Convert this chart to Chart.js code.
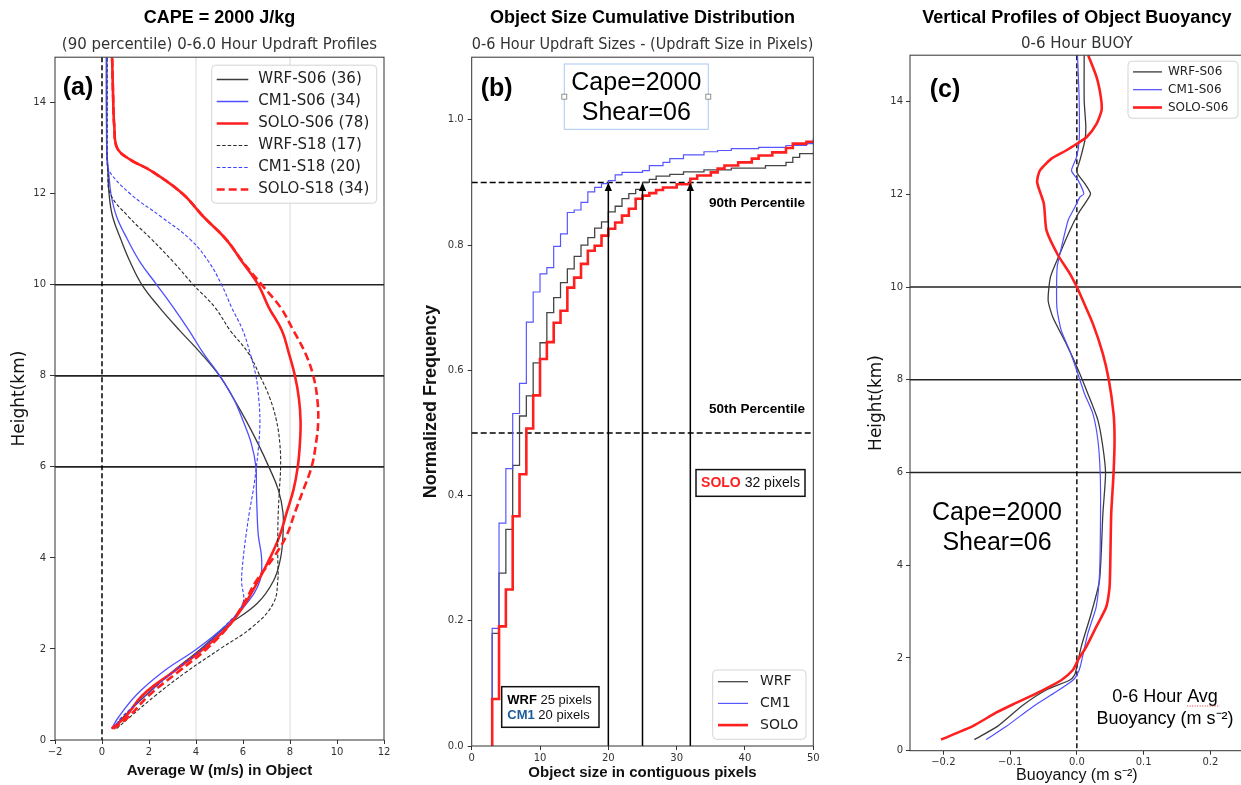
<!DOCTYPE html>
<html>
<head>
<meta charset="utf-8">
<title>Updraft objects, CAPE 2000</title>
<script src="https://cdn.jsdelivr.net/npm/chart.js@4.4.1/dist/chart.umd.min.js"></script>
<style>
  html, body { margin: 0; padding: 0; background: #fff; overflow: hidden; }
  body { width: 1241px; height: 785px; position: relative; }
  canvas { position: absolute; top: 0; }
  #panelA { left: 0; }
  #panelB { left: 400px; }
  #panelC { left: 840px; }
</style>
</head>
<body>
<canvas id="panelA" width="400" height="785"></canvas>
<canvas id="panelB" width="430" height="785"></canvas>
<canvas id="panelC" width="410" height="785"></canvas>
<script>
// ---------- (a) 90th percentile updraft profiles ----------
const profileHeights = [0.25, 0.5, 1, 1.5, 2, 2.5, 3, 3.5, 4, 4.5, 5, 5.5, 6, 6.5, 7, 7.5, 8, 8.5, 9, 9.5, 10, 10.5, 11, 11.5, 12, 12.5, 12.75, 13, 13.5, 14, 15];
const wrfS06 = [0.45, 0.9, 1.9, 3.0, 4.2, 5.3, 6.6, 7.3, 7.6, 7.7, 7.7, 7.5, 7.1, 6.65, 6.15, 5.6, 5.0, 4.2, 3.3, 2.45, 1.7, 1.2, 0.8, 0.45, 0.3, 0.25, 0.22, 0.2, 0.2, 0.2, 0.2];
const cm1S06 = [0.41, 0.7, 1.48, 2.6, 4.03, 5.23, 6.16, 6.72, 6.79, 6.65, 6.6, 6.57, 6.55, 6.36, 6.01, 5.6, 5.02, 4.31, 3.7, 3.04, 2.33, 1.62, 1.08, 0.62, 0.38, 0.28, 0.23, 0.2, 0.19, 0.18, 0.18];
const soloS06 = [0.41, 0.98, 1.76, 3.04, 4.31, 5.38, 6.09, 6.65, 7.15, 7.57, 7.86, 8.15, 8.33, 8.42, 8.45, 8.38, 8.21, 7.95, 7.65, 7.1, 6.65, 5.97, 5.28, 4.31, 3.43, 2.1, 1.2, 0.65, 0.52, 0.48, 0.43];
const wrfS18 = [0.62, 1.18, 2.33, 3.6, 5.02, 6.44, 7.29, 7.48, 7.48, 7.48, 7.5, 7.55, 7.6, 7.57, 7.43, 7.15, 6.72, 6.23, 5.45, 4.81, 3.89, 3.04, 2.11, 1.12, 0.35, 0.25, 0.22, 0.22, 0.22, 0.22, 0.22];
const cm1S18 = [0.48, 0.84, 1.9, 3.04, 4.24, 5.23, 5.99, 5.94, 6.01, 6.13, 6.27, 6.44, 6.57, 6.67, 6.72, 6.67, 6.55, 6.3, 5.99, 5.52, 5.09, 4.55, 3.75, 2.5, 1.2, 0.3, 0.22, 0.2, 0.2, 0.2, 0.2];
const soloS18 = [0.48, 1.11, 2.04, 3.25, 4.45, 5.38, 6.03, 6.57, 7.29, 7.86, 8.21, 8.57, 8.92, 9.1, 9.2, 9.16, 8.99, 8.65, 8.14, 7.6, 6.8, 6.0, 5.28, 4.31, 3.43, 2.1, 1.2, 0.65, 0.52, 0.48, 0.43];
const profileLabels = ['WRF-S06 (36)', 'CM1-S06 (34)', 'SOLO-S06 (78)', 'WRF-S18 (17)', 'CM1-S18 (20)', 'SOLO-S18 (34)'];
const levelLines = [6, 8, 10];      // km
const guideW = [4, 8];              // m/s

// ---------- (b) cumulative object size distribution ----------
const wrfSizes = [3, 3, 4, 5, 6, 7, 8, 9, 10, 11, 12, 13, 14, 15, 16, 17, 18, 19, 20, 21, 22, 23, 24, 25, 26, 27, 29, 31, 34, 38, 43, 46, 47, 48, 50];
const wrfCdf = [0, 0.18, 0.276, 0.346, 0.448, 0.527, 0.559, 0.612, 0.644, 0.692, 0.716, 0.74, 0.762, 0.782, 0.8, 0.812, 0.827, 0.837, 0.853, 0.862, 0.874, 0.882, 0.889, 0.9, 0.905, 0.91, 0.913, 0.917, 0.92, 0.923, 0.927, 0.932, 0.94, 0.946, 0.948];
const cm1Sizes = [3, 3, 4, 5, 6, 7, 8, 9, 10, 11, 12, 13, 14, 15, 16, 17, 18, 19, 20, 21, 22, 25, 26, 28, 29, 31, 34, 36, 38, 42, 46, 49, 50];
const cm1Cdf = [0, 0.188, 0.356, 0.443, 0.531, 0.579, 0.677, 0.725, 0.754, 0.764, 0.798, 0.818, 0.852, 0.856, 0.868, 0.885, 0.892, 0.898, 0.903, 0.912, 0.916, 0.919, 0.927, 0.932, 0.938, 0.944, 0.949, 0.951, 0.954, 0.956, 0.959, 0.962, 0.97];
const soloSizes = [3, 3, 4, 5, 6, 7, 8, 9, 10, 11, 12, 13, 14, 15, 16, 17, 18, 19, 20, 21, 22, 23, 24, 25, 26, 27, 28, 30, 32, 33, 35, 36, 37, 39, 41, 42, 44, 46, 47, 49, 50];
const soloCdf = [0, 0.075, 0.191, 0.25, 0.367, 0.434, 0.507, 0.56, 0.618, 0.645, 0.676, 0.695, 0.732, 0.748, 0.77, 0.791, 0.799, 0.815, 0.826, 0.836, 0.847, 0.858, 0.874, 0.879, 0.883, 0.888, 0.892, 0.897, 0.906, 0.911, 0.916, 0.922, 0.927, 0.932, 0.938, 0.943, 0.948, 0.955, 0.962, 0.965, 0.967];
const modelNames = ['WRF', 'CM1', 'SOLO'];
const percentileLevels = [0.5, 0.9];
const p90Sizes = [25, 20, 32];      // WRF, CM1, SOLO

// ---------- (c) buoyancy profiles ----------
const wrfBuoyHeights = [0.24, 0.53, 0.98, 1.31, 1.52, 1.63, 1.81, 2.24, 2.96, 3.68, 5.11, 5.98, 6.55, 7.13, 7.7, 8.28, 8.78, 9.35, 9.71, 10.22, 10.72, 11.22, 11.58, 11.8, 12.01, 12.23, 12.48, 12.73, 13.16, 13.45, 14.02, 15];
const wrfBuoy = [-0.1535, -0.1185, -0.081, -0.046, -0.011, -0.0035, 0, 0.0065, 0.0215, 0.034, 0.039, 0.043, 0.039, 0.0315, 0.0165, 0, -0.016, -0.036, -0.043, -0.0395, -0.0255, -0.0105, 0.002, 0.012, 0.0205, 0.012, 0, 0.0045, 0.012, 0.0135, 0.011, 0.011];
const cm1BuoyHeights = [0.24, 0.52, 0.95, 1.27, 1.52, 1.63, 1.81, 2.53, 3.1, 3.82, 5.11, 5.98, 6.7, 7.27, 7.7, 8.13, 8.64, 9.07, 9.57, 10.43, 10.86, 11.44, 11.72, 11.94, 12.01, 12.3, 12.51, 12.8, 13.16, 14.02, 15];
const cm1Buoy = [-0.136, -0.106, -0.066, -0.031, -0.006, 0, 0.005, 0.0165, 0.029, 0.034, 0.0355, 0.035, 0.0315, 0.024, 0.0115, 0.0015, -0.011, -0.0235, -0.03, -0.0295, -0.023, -0.013, -0.003, 0.0045, 0.0105, 0.002, -0.008, -0.0005, 0.0035, 0.0035, 0.001];
const soloBuoyHeights = [0.24, 0.53, 0.82, 1.03, 1.27, 1.52, 1.74, 1.95, 2.24, 2.67, 3.1, 3.53, 3.97, 5.11, 5.98, 6.7, 7.27, 7.99, 8.56, 9.21, 9.71, 10.0, 10.29, 10.68, 11.22, 11.8, 12.26, 12.51, 12.77, 12.95, 13.09, 13.23, 13.52, 13.81, 14.09, 14.53, 15.0];
const soloBuoy = [-0.2035, -0.156, -0.121, -0.091, -0.056, -0.0235, -0.006, 0.0015, 0.014, 0.029, 0.044, 0.049, 0.05, 0.0515, 0.055, 0.0565, 0.055, 0.048, 0.039, 0.024, 0.009, 0, -0.0105, -0.028, -0.0455, -0.0495, -0.0595, -0.0555, -0.038, -0.0155, 0, 0.0145, 0.0295, 0.037, 0.036, 0.0295, 0.017];
const buoyLabels = ['WRF-S06', 'CM1-S06', 'SOLO-S06'];
const buoyTicks = [-0.2, -0.1, 0, 0.1, 0.2];

const MPL = 'DejaVu Sans';
const ARIAL = 'Liberation Sans';
const BLACK = '#3a3a3a', BLUE = '#4f4fff', RED = '#ff1f1f';

// ---------- drawing helpers ----------
function stroke(ctx, x1, y1, x2, y2, color, width, dash) {
  ctx.save();
  ctx.strokeStyle = color; ctx.lineWidth = width; ctx.setLineDash(dash || []);
  ctx.beginPath(); ctx.moveTo(x1, y1); ctx.lineTo(x2, y2); ctx.stroke();
  ctx.restore();
}
function label(ctx, str, x, y, font, color, align) {
  ctx.save();
  ctx.font = font; ctx.fillStyle = color; ctx.textAlign = align || 'center'; ctx.textBaseline = 'middle';
  ctx.fillText(str, x, y);
  ctx.restore();
}
// several differently styled pieces on one text line
function runs(ctx, parts, x, y, align) {
  ctx.save();
  ctx.textBaseline = 'middle'; ctx.textAlign = 'left';
  let total = 0;
  parts.forEach(p => { ctx.font = p.font; total += ctx.measureText(p.t).width; });
  let cx = align === 'center' ? x - total / 2 : x;
  parts.forEach(p => { ctx.font = p.font; ctx.fillStyle = p.color; ctx.fillText(p.t, cx, y); cx += ctx.measureText(p.t).width; });
  ctx.restore();
}
function frame(chart) {
  const { ctx, chartArea: a } = chart;
  ctx.save(); ctx.strokeStyle = '#333'; ctx.lineWidth = 1;
  ctx.strokeRect(a.left, a.top, a.width, a.height);
  ctx.restore();
}
function legendBox(chart, b) {
  const ctx = chart.ctx;
  ctx.save();
  ctx.fillStyle = 'rgba(255,255,255,0.85)'; ctx.strokeStyle = '#d4d4d4'; ctx.lineWidth = 1;
  ctx.beginPath();
  if (ctx.roundRect) ctx.roundRect(b.x, b.y, b.w, b.h, 4); else ctx.rect(b.x, b.y, b.w, b.h);
  ctx.fill(); ctx.stroke();
  chart.data.datasets.forEach((ds, i) => {
    const yy = b.y + b.row0 + i * b.gap;
    stroke(ctx, b.x + b.lineX, yy, b.x + b.lineX + b.lineLen, yy, ds.borderColor, ds.borderWidth, ds.borderDash);
    label(ctx, ds.label, b.x + b.textX, yy, b.font, '#222', 'left');
  });
  ctx.restore();
}
function boxed(ctx, x, y, w, h, color, width) {
  ctx.save();
  ctx.fillStyle = '#fff'; ctx.strokeStyle = color; ctx.lineWidth = width;
  ctx.fillRect(x, y, w, h); ctx.strokeRect(x, y, w, h);
  ctx.restore();
}

function lockAxis(size) {
  return scale => {
    if (scale.isHorizontal()) scale.height = size; else scale.width = size;
    scale.paddingLeft = 0; scale.paddingRight = 0; scale.paddingTop = 0; scale.paddingBottom = 0;
  };
}
function fmt(digits) {
  return v => (v < -1e-9 ? '\u2212' : '') + Math.abs(v).toFixed(digits);
}
function axis(o) {
  const cfg = {
    type: 'linear', min: o.min, max: o.max,
    afterFit: lockAxis(o.size),
    border: { display: false },
    grid: { drawOnChartArea: false, drawTicks: true, tickLength: o.tl || 4, tickColor: '#333', tickWidth: 1 },
    ticks: {
      stepSize: o.step, includeBounds: false, autoSkip: false, maxRotation: 0,
      padding: o.pad, color: '#333', font: { family: MPL, size: 10 }, callback: o.fmt
    },
    title: { display: true, text: o.title, color: '#111', font: o.titleFont, padding: o.titlePad }
  };
  if (o.values) cfg.afterBuildTicks = scale => { scale.ticks = o.values.map(v => ({ value: v })); };
  return cfg;
}
function headings(main, sub, subPad) {
  return {
    title: { display: true, text: main, fullSize: false, color: '#000',
      font: { family: ARIAL, size: 18, weight: 'bold' }, padding: { top: 7, bottom: 0 } },
    subtitle: { display: true, text: sub, fullSize: false, color: '#333',
      font: { family: MPL, size: 15 }, padding: subPad },
    legend: { display: false },
    tooltip: { enabled: false }
  };
}
function series(label, xs, ys, color, width, dash, extra) {
  return Object.assign({
    label, data: xs.map((v, i) => ({ x: v, y: ys[i] })),
    showLine: true, borderColor: color, borderWidth: width, borderDash: dash,
    pointRadius: 0, fill: false
  }, extra || {});
}
function reverseOrder(list) {
  list.forEach((ds, i) => { ds.order = list.length - i; });
  return list;
}

// ---------- panel (a) ----------
const profileValues = [wrfS06, cm1S06, soloS06, wrfS18, cm1S18, soloS18];
const profileStyles = [
  [BLACK, 1.3, []], [BLUE, 1.3, []], [RED, 2.6, []],
  ['#2a2a2a', 1.1, [3.5, 2]], ['#4040ff', 1.1, [3.5, 2]], [RED, 2.6, [8, 4]]
];

const decorA = {
  id: 'decorA',
  beforeDatasetsDraw(chart) {
    const { ctx, chartArea: a, scales: { x, y } } = chart;
    guideW.forEach(v => stroke(ctx, x.getPixelForValue(v), a.top, x.getPixelForValue(v), a.bottom, '#cfcfcf', 0.8));
    levelLines.forEach(v => stroke(ctx, a.left, y.getPixelForValue(v), a.right, y.getPixelForValue(v), '#222', 1.6));
    stroke(ctx, x.getPixelForValue(0), a.top, x.getPixelForValue(0), a.bottom, '#000', 1.5, [5, 3]);
  },
  afterDatasetsDraw(chart) {
    const { ctx, chartArea: a } = chart;
    frame(chart);
    label(ctx, '(a)', a.left + 23, a.top + 31, `bold 25px "${ARIAL}"`, '#000');
    legendBox(chart, { x: a.right - 172.3, y: a.top + 8, w: 165, h: 138, row0: 14.3, gap: 22,
      lineX: 5, lineLen: 31.6, textX: 46.6, font: `15px "${MPL}"` });
  }
};

new Chart(document.getElementById('panelA'), {
  type: 'scatter',
  data: {
    datasets: reverseOrder(profileValues.map((vals, i) =>
      series(profileLabels[i], vals, profileHeights, profileStyles[i][0], profileStyles[i][1], profileStyles[i][2], { tension: 0.4 })))
  },
  options: {
    responsive: false, animation: false, devicePixelRatio: 1,
    layout: { padding: { left: 0, right: 16, top: 0, bottom: 0 } },
    plugins: headings('CAPE = 2000 J/kg', '(90 percentile) 0-6.0 Hour Updraft Profiles', { top: 7.4, bottom: 3.2 }),
    scales: {
      x: axis({ min: -2, max: 12, step: 2, size: 45, pad: 2, fmt: fmt(0),
        title: 'Average W (m/s) in Object', titleFont: { family: ARIAL, size: 15, weight: 'bold' }, titlePad: { top: 0, bottom: 5 } }),
      y: axis({ min: 0, max: 15, step: 2, size: 55, tl: 5, pad: 4, fmt: fmt(0),
        title: 'Height(km)', titleFont: { family: MPL, size: 17 }, titlePad: { top: 9.8, bottom: 0 } })
    }
  },
  plugins: [decorA]
});

// ---------- panel (b) ----------
const decorB = {
  id: 'decorB',
  beforeDatasetsDraw(chart) {
    const { ctx, chartArea: a, scales: { y } } = chart;
    percentileLevels.forEach(v => stroke(ctx, a.left, y.getPixelForValue(v), a.right, y.getPixelForValue(v), '#000', 1.5, [6, 3]));
  },
  afterDatasetsDraw(chart) {
    const { ctx, chartArea: a, scales: { x, y } } = chart;
    // arrows up to the 90th percentile size of each model
    const tip = y.getPixelForValue(0.9), base = y.getPixelForValue(0);
    ctx.save(); ctx.fillStyle = '#000';
    p90Sizes.forEach(v => {
      const px = x.getPixelForValue(v);
      stroke(ctx, px, base, px, tip + 6, '#000', 1.5);
      ctx.beginPath(); ctx.moveTo(px, tip); ctx.lineTo(px - 3.6, tip + 8.5); ctx.lineTo(px + 3.6, tip + 8.5); ctx.closePath(); ctx.fill();
    });
    ctx.restore();
    frame(chart);

    label(ctx, '(b)', a.left + 25, a.top + 32, `bold 25px "${ARIAL}"`, '#000');
    // cape / shear text box
    const bx = a.left + 92.6, by = a.top + 6.8, bw = 144, bh = 65.3;
    boxed(ctx, bx, by, bw, bh, '#a9c9f2', 1);
    [bx, bx + bw].forEach(hx => {
      ctx.save(); ctx.fillStyle = '#fff'; ctx.strokeStyle = '#777'; ctx.lineWidth = 0.8;
      ctx.fillRect(hx - 2.5, by + bh / 2 - 2.5, 5, 5); ctx.strokeRect(hx - 2.5, by + bh / 2 - 2.5, 5, 5);
      ctx.restore();
    });
    label(ctx, 'Cape=2000', bx + bw / 2, by + 19.5, `25px "${ARIAL}"`, '#000');
    label(ctx, 'Shear=06', bx + bw / 2, by + 49.5, `25px "${ARIAL}"`, '#000');

    label(ctx, '90th Percentile', a.right - 8.3, y.getPixelForValue(0.866), `bold 13.5px "${ARIAL}"`, '#000', 'right');
    label(ctx, '50th Percentile', a.right - 8.3, y.getPixelForValue(0.538), `bold 13.5px "${ARIAL}"`, '#000', 'right');

    // SOLO 90th percentile size
    boxed(ctx, a.right - 117.3, y.getPixelForValue(0.42) - 13.4, 109, 26.7, '#111', 1.5);
    runs(ctx, [
      { t: 'SOLO', font: `bold 14px "${ARIAL}"`, color: RED },
      { t: ' ' + p90Sizes[2] + ' pixels', font: `14px "${ARIAL}"`, color: '#111' }
    ], a.right - 62.8, y.getPixelForValue(0.42), 'center');

    // WRF and CM1 90th percentile sizes
    const wx = a.left + 30, wy = a.bottom - 59.3;
    boxed(ctx, wx, wy, 97.3, 40.6, '#111', 1.5);
    runs(ctx, [
      { t: 'WRF', font: `bold 13px "${ARIAL}"`, color: '#000' },
      { t: ' ' + p90Sizes[0] + ' pixels', font: `13px "${ARIAL}"`, color: '#111' }
    ], wx + 5.6, wy + 13.5, 'left');
    runs(ctx, [
      { t: 'CM1', font: `bold 13px "${ARIAL}"`, color: '#1c5b98' },
      { t: ' ' + p90Sizes[1] + ' pixels', font: `13px "${ARIAL}"`, color: '#111' }
    ], wx + 5.6, wy + 28.5, 'left');

    legendBox(chart, { x: a.right - 100.6, y: a.bottom - 76, w: 93.3, h: 69.3, row0: 11.7, gap: 21.7,
      lineX: 5.3, lineLen: 30, textX: 47.3, font: `14px "${MPL}"` });
  }
};

new Chart(document.getElementById('panelB'), {
  type: 'scatter',
  data: {
    datasets: reverseOrder([
      series(modelNames[0], wrfSizes, wrfCdf, '#454545', 1.3, [], { stepped: 'before' }),
      series(modelNames[1], cm1Sizes, cm1Cdf, '#5757ff', 1.2, [], { stepped: 'before' }),
      series(modelNames[2], soloSizes, soloCdf, RED, 2.6, [], { stepped: 'before' })
    ])
  },
  options: {
    responsive: false, animation: false, devicePixelRatio: 1,
    layout: { padding: { left: 0, right: 16.7, top: 0, bottom: 0 } },
    plugins: headings('Object Size Cumulative Distribution', '0-6 Hour Updraft Sizes - (Updraft Size in Pixels)', { top: 7.4, bottom: 3.2 }),
    scales: {
      x: axis({ min: 0, max: 50, step: 10, size: 39, pad: 2, fmt: fmt(0),
        title: 'Object size in contiguous pixels', titleFont: { family: ARIAL, size: 15, weight: 'bold' }, titlePad: { top: 0, bottom: 3 } }),
      y: axis({ min: 0, max: 1.1, step: 0.2, size: 71.7, pad: 4, fmt: fmt(1),
        title: 'Normalized Frequency', titleFont: { family: ARIAL, size: 18, weight: 'bold' }, titlePad: { top: 20.2, bottom: 0 } })
    }
  },
  plugins: [decorB]
});

// ---------- panel (c) ----------
const decorC = {
  id: 'decorC',
  beforeDatasetsDraw(chart) {
    const { ctx, chartArea: a, scales: { x, y } } = chart;
    levelLines.forEach(v => stroke(ctx, a.left, y.getPixelForValue(v), a.right, y.getPixelForValue(v), '#222', 1.6));
    stroke(ctx, x.getPixelForValue(0), a.top, x.getPixelForValue(0), a.bottom, '#000', 1.4, [5, 3]);
  },
  afterDatasetsDraw(chart) {
    const { ctx, chartArea: a } = chart;
    frame(chart);
    label(ctx, '(c)', a.left + 35, a.top + 35, `bold 25px "${ARIAL}"`, '#000');
    label(ctx, 'Cape=2000', a.left + 87, 513.3, `25px "${ARIAL}"`, '#000');
    label(ctx, 'Shear=06', a.left + 87, 543.3, `25px "${ARIAL}"`, '#000');

    const cx = a.left + 255, f = `18px "${ARIAL}"`;
    label(ctx, '0-6 Hour Avg', cx, 697, f, '#000');
    label(ctx, 'Buoyancy (m s\u207B\u00B2)', cx, 719, f, '#000');
    ctx.save(); ctx.font = f;
    const right = cx + ctx.measureText('0-6 Hour Avg').width / 2;
    const left = right - ctx.measureText('Avg').width;
    ctx.restore();
    stroke(ctx, left, 706, right + 2, 706, '#e03030', 1, [1, 1.5]);

    legendBox(chart, { x: a.right - 115.7, y: a.top + 6, w: 110, h: 57, row0: 10.7, gap: 17.8,
      lineX: 5, lineLen: 29, textX: 40, font: `12px "${MPL}"` });
  }
};

new Chart(document.getElementById('panelC'), {
  type: 'scatter',
  data: {
    datasets: reverseOrder([
      series(buoyLabels[0], wrfBuoy, wrfBuoyHeights, BLACK, 1.3, [], { tension: 0.2 }),
      series(buoyLabels[1], cm1Buoy, cm1BuoyHeights, BLUE, 1.2, [], { tension: 0.2 }),
      series(buoyLabels[2], soloBuoy, soloBuoyHeights, RED, 2.6, [], { tension: 0.2 })
    ])
  },
  options: {
    responsive: false, animation: false, devicePixelRatio: 1,
    layout: { padding: { left: 0, right: 6.3, top: 0, bottom: 0 } },
    plugins: headings('Vertical Profiles of Object Buoyancy', '0-6 Hour BUOY', { top: 6.4, bottom: 2.2 }),
    scales: {
      x: axis({ min: -0.25, max: 0.25, step: 0.1, values: buoyTicks, size: 34.3, pad: 2, fmt: fmt(1),
        title: 'Buoyancy (m s\u207B\u00B2)', titleFont: { family: ARIAL, size: 16 }, titlePad: { top: 0, bottom: 0 } }),
      y: axis({ min: 0, max: 15, step: 2, size: 70, pad: 3, fmt: fmt(0),
        title: 'Height(km)', titleFont: { family: MPL, size: 17 }, titlePad: { top: 26.5, bottom: 0 } })
    }
  },
  plugins: [decorC]
});
</script>
</body>
</html>
